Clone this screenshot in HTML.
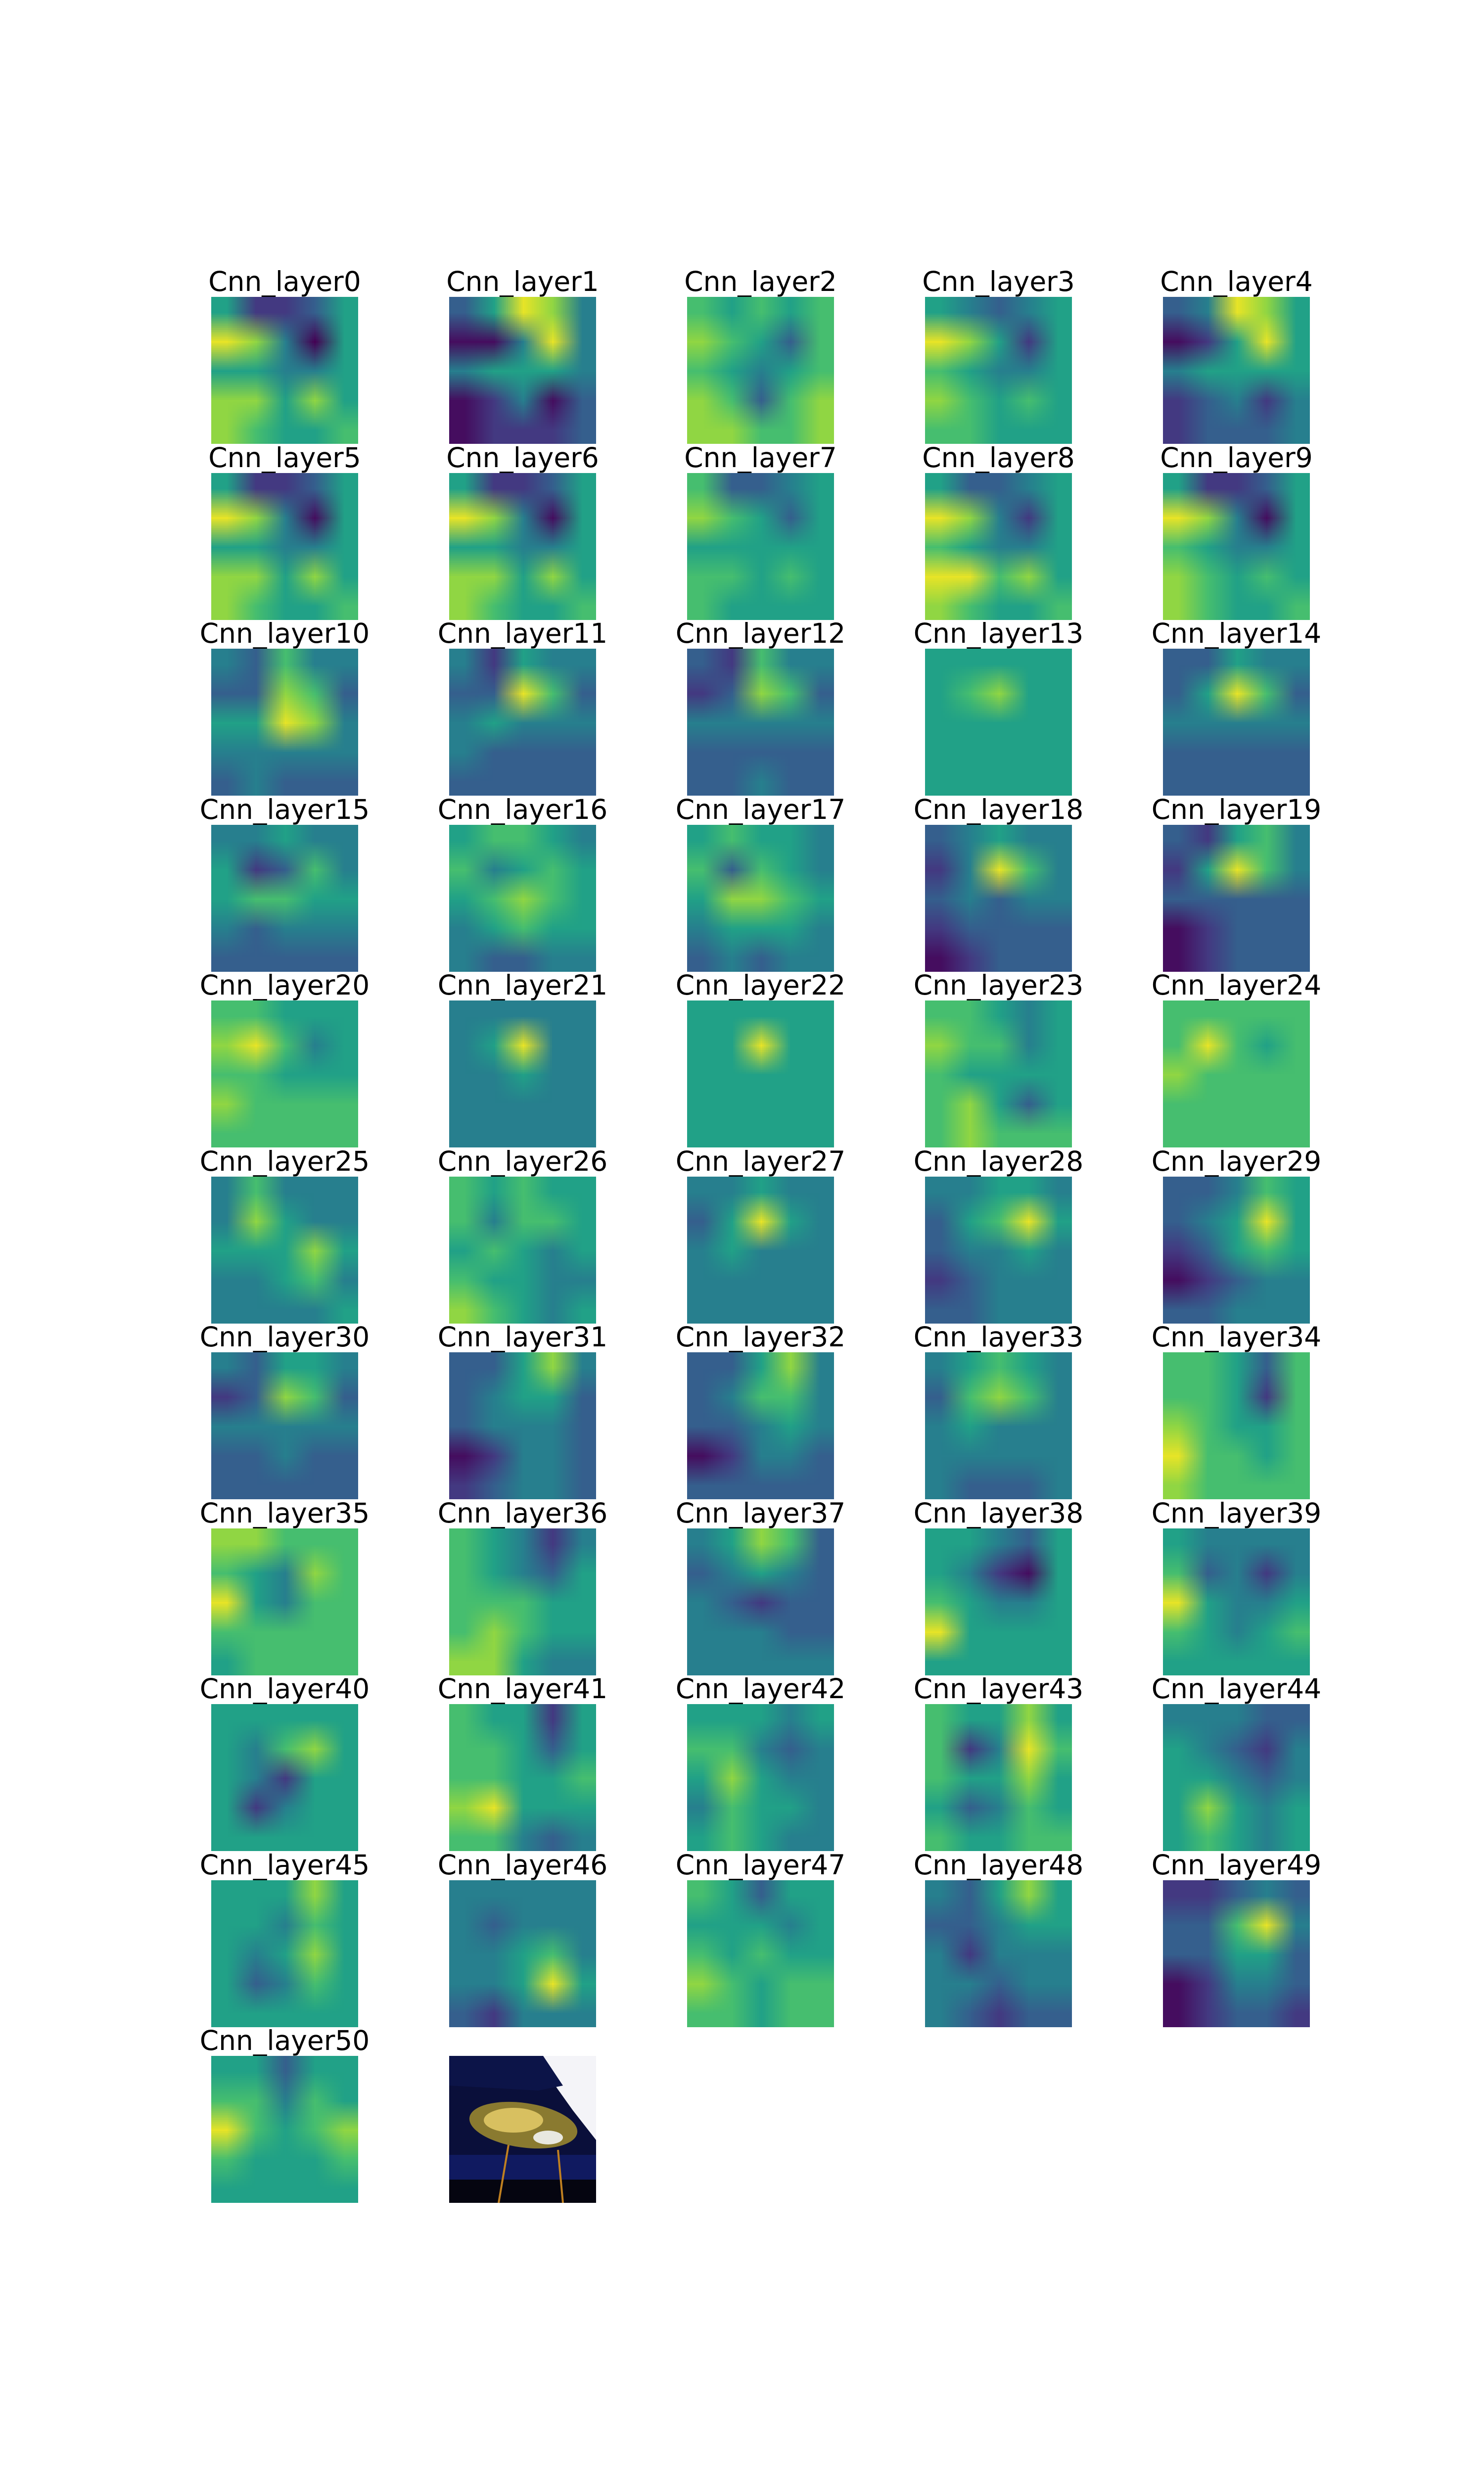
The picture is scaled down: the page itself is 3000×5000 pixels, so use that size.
<!DOCTYPE html>
<html><head><meta charset="utf-8"><style>
html,body{margin:0;padding:0;background:#fff;}
#fig{position:relative;width:3000px;height:5000px;overflow:hidden;background:#fff;}
canvas{position:absolute;width:297px;height:297px;image-rendering:auto;}
svg{position:absolute;left:0;top:0;}
</style></head><body>
<div id="fig">
<svg id="ov" width="3000" height="5000"></svg>
</div>
<script>
const layerNames = Array.from({length:51},(_,i)=>'Cnn_layer'+i);
const grids = [
[[5,2,2,3,5],[8,7,4,0,5],[5,5,4,4,5],[7,7,5,7,5],[7,6,5,5,6]],
[[3,5,8,7,4],[1,1,4,8,4],[4,5,5,5,4],[1,2,4,1,3],[1,2,2,2,3]],
[[6,5,6,5,6],[7,6,5,3,6],[6,5,4,5,6],[7,6,3,6,7],[7,7,6,6,7]],
[[5,4,3,4,5],[8,7,5,2,5],[6,5,4,4,5],[7,6,5,6,5],[6,6,5,5,5]],
[[3,4,8,7,5],[1,2,5,8,5],[4,5,5,5,5],[2,3,4,2,4],[2,3,3,3,4]],
[[5,2,2,3,5],[8,7,4,1,5],[5,5,4,4,5],[7,7,5,7,5],[7,6,5,5,6]],
[[5,2,2,3,5],[8,7,4,1,5],[5,5,4,4,5],[7,7,5,7,5],[7,6,5,5,6]],
[[6,3,3,4,5],[7,6,5,3,5],[5,5,5,5,5],[6,6,5,6,5],[6,5,5,5,5]],
[[5,3,3,4,5],[8,7,4,2,5],[6,5,4,4,5],[8,8,6,7,5],[7,6,5,5,6]],
[[5,2,2,3,5],[8,7,4,1,5],[6,5,4,4,5],[7,6,5,6,5],[7,6,5,5,6]],
[[4,3,6,4,4],[3,3,7,6,3],[5,5,8,7,4],[4,4,4,4,4],[3,4,3,3,3]],
[[4,2,5,4,4],[3,3,8,6,3],[4,5,4,4,4],[4,3,3,3,3],[3,3,3,3,3]],
[[3,2,6,4,4],[2,3,7,6,3],[4,4,4,4,4],[3,3,3,3,3],[3,3,4,3,3]],
[[5,5,5,5,5],[5,6,7,5,5],[5,5,5,5,5],[5,5,5,5,5],[5,5,5,5,5]],
[[3,3,5,4,4],[3,5,8,6,3],[4,4,4,4,4],[3,3,3,3,3],[3,3,3,3,3]],
[[4,4,5,4,4],[5,2,3,6,4],[5,6,6,5,5],[4,3,4,4,4],[3,3,3,3,3]],
[[5,6,6,5,4],[6,4,5,6,5],[5,6,7,6,5],[4,5,6,5,5],[4,3,3,4,4]],
[[5,6,5,5,4],[6,3,6,5,4],[5,7,7,6,5],[4,5,5,5,4],[3,4,3,4,4]],
[[3,4,5,4,4],[2,4,8,6,4],[3,4,3,4,4],[2,3,3,3,3],[1,2,3,3,3]],
[[3,2,5,6,4],[2,5,8,6,4],[3,3,3,3,3],[1,2,3,3,3],[1,2,3,3,3]],
[[6,6,5,5,5],[7,8,6,4,5],[6,6,5,5,5],[7,6,6,6,6],[6,6,6,6,6]],
[[4,4,4,4,4],[4,5,8,4,4],[4,4,5,4,4],[4,4,4,4,4],[4,4,4,4,4]],
[[5,5,5,5,5],[5,5,8,5,5],[5,5,5,5,5],[5,5,5,5,5],[5,5,5,5,5]],
[[6,6,5,4,5],[7,6,6,4,5],[6,5,5,5,5],[6,7,5,3,5],[6,7,6,6,6]],
[[6,6,6,6,6],[6,8,6,5,6],[7,6,6,6,6],[6,6,6,6,6],[6,6,6,6,6]],
[[4,6,4,4,4],[4,7,5,4,4],[5,5,5,7,5],[4,4,5,6,4],[4,4,4,4,5]],
[[6,5,6,5,5],[6,4,6,6,5],[5,6,5,4,5],[6,5,5,4,4],[7,6,5,4,5]],
[[4,4,5,4,4],[3,5,8,5,4],[4,5,4,4,4],[4,4,4,4,4],[4,4,4,4,4]],
[[4,4,5,5,4],[3,5,6,8,5],[3,4,4,5,4],[2,3,4,4,4],[3,3,4,4,4]],
[[3,3,4,6,5],[3,4,5,8,5],[2,3,5,6,5],[1,2,3,4,4],[3,3,4,4,4]],
[[4,3,5,5,4],[2,3,7,6,3],[4,4,4,4,4],[3,3,4,3,3],[3,3,3,3,3]],
[[3,3,5,7,4],[3,4,5,5,3],[3,4,4,4,3],[1,2,4,4,3],[2,3,4,4,3]],
[[3,3,5,7,4],[3,4,6,6,4],[3,3,4,5,4],[1,2,4,4,3],[3,3,3,3,3]],
[[4,5,6,5,4],[3,6,7,6,4],[4,5,4,4,4],[4,4,4,4,4],[4,3,3,3,4]],
[[6,6,5,3,6],[6,6,5,2,6],[7,6,5,5,6],[8,6,6,5,6],[7,6,6,6,6]],
[[7,7,6,6,6],[6,5,4,7,6],[8,5,4,6,6],[6,6,6,6,6],[5,6,6,6,6]],
[[6,5,4,2,4],[6,5,4,3,5],[6,6,6,5,5],[6,7,6,5,5],[7,7,5,4,4]],
[[4,5,7,6,3],[3,4,5,4,3],[4,3,2,3,3],[4,4,4,3,3],[4,4,4,4,4]],
[[5,5,4,3,5],[5,4,2,1,5],[6,5,4,4,5],[8,5,5,5,5],[5,5,5,5,5]],
[[5,4,4,4,4],[6,3,4,2,4],[8,5,4,4,5],[6,5,4,5,6],[5,5,5,5,5]],
[[5,5,5,5,5],[5,4,6,7,5],[5,4,2,5,5],[5,2,4,5,5],[5,5,5,5,5]],
[[6,5,5,2,5],[6,6,5,3,5],[6,6,5,5,6],[7,8,5,5,5],[6,6,4,3,4]],
[[5,5,5,4,5],[6,6,4,3,4],[5,7,5,4,4],[4,6,5,5,4],[5,6,5,4,4]],
[[6,5,5,7,5],[6,2,4,8,6],[6,5,5,7,5],[5,3,4,6,5],[6,5,5,6,6]],
[[4,4,4,3,3],[5,4,3,2,4],[5,5,4,3,4],[5,7,5,4,5],[5,6,5,4,5]],
[[5,5,5,7,5],[5,5,4,6,5],[5,4,5,7,5],[5,3,4,6,5],[5,5,5,5,5]],
[[4,4,4,4,4],[4,3,4,4,4],[4,4,5,6,4],[4,4,5,8,5],[3,2,4,4,4]],
[[6,5,3,5,5],[5,5,5,4,5],[6,5,6,5,5],[7,6,5,6,6],[6,6,5,6,6]],
[[4,3,5,7,5],[3,3,4,5,5],[4,2,4,4,4],[4,4,3,4,4],[4,3,2,3,3]],
[[2,2,3,4,3],[3,3,6,8,4],[3,3,5,5,3],[1,2,4,4,3],[1,2,3,3,2]],
[[5,5,3,5,5],[6,6,4,6,5],[8,6,5,6,7],[6,5,5,5,6],[5,5,5,5,5]]
];
const vir=[[68,1,84],[72,40,120],[62,74,137],[49,104,142],[38,130,142],[31,158,137],[53,183,121],[109,205,89],[180,222,44],[253,231,37]];
function cmap(v){v=Math.max(0,Math.min(1,v))*9;const i=Math.min(8,Math.floor(v)),f=v-i;const a=vir[i],b=vir[i+1];return a.map((c,k)=>Math.round(c+(b[k]-c)*f));}
const X0=427,DX=481,Y0=600,DY=355.5,S=297;
const fig=document.getElementById('fig'),ov=document.getElementById('ov');
const NS='http://www.w3.org/2000/svg';
function title(txt,cx,y){const t=document.createElementNS(NS,'text');t.setAttribute('x',cx);t.setAttribute('y',y);t.setAttribute('text-anchor','middle');t.setAttribute('font-family','DejaVu Sans, Liberation Sans, sans-serif');t.setAttribute('font-size','55');t.textContent=txt;


ov.appendChild(t);}
grids.forEach((g,i)=>{
  const r=Math.floor(i/5),c=i%5,x=X0+c*DX,y=Math.round(Y0+r*DY);
  const cv=document.createElement('canvas');cv.width=5;cv.height=5;
  cv.style.left=x+'px';cv.style.top=y+'px';
  
  
  const ctx=cv.getContext('2d');const im=ctx.createImageData(5,5);
  g.forEach((row,ri)=>row.forEach((v,ci)=>{const col=cmap(0.5+(v/9-0.5)*1.2);const o=(ri*5+ci)*4;im.data[o]=col[0];im.data[o+1]=col[1];im.data[o+2]=col[2];im.data[o+3]=255;}));
  ctx.putImageData(im,0,0);fig.appendChild(cv);
  title(layerNames[i],x+S/2,y-12);
});
// original image panel
(function(){const x=X0+DX,y=Math.round(Y0+10*DY);
const g=document.createElementNS(NS,'g');g.setAttribute('transform','translate('+x+','+y+')');


g.innerHTML='<rect width="297" height="297" fill="#0a0f3a"/><polygon points="190,0 297,0 297,170 250,110 200,40" fill="#f4f4f8"/><polygon points="0,0 190,0 230,60 180,70 0,60" fill="#0c1448"/><ellipse cx="150" cy="140" rx="110" ry="45" fill="#8a7a30" transform="rotate(8 150 140)"/><ellipse cx="130" cy="130" rx="60" ry="25" fill="#d8c060"/><ellipse cx="200" cy="165" rx="30" ry="14" fill="#e8e8e0"/><rect y="200" width="297" height="97" fill="#101a60"/><rect x="0" y="250" width="297" height="47" fill="#050510"/><line x1="100" y1="297" x2="120" y2="180" stroke="#c08020" stroke-width="4"/><line x1="230" y1="297" x2="220" y2="190" stroke="#c08020" stroke-width="4"/>';
ov.appendChild(g);
})();
</script>
</body></html>
